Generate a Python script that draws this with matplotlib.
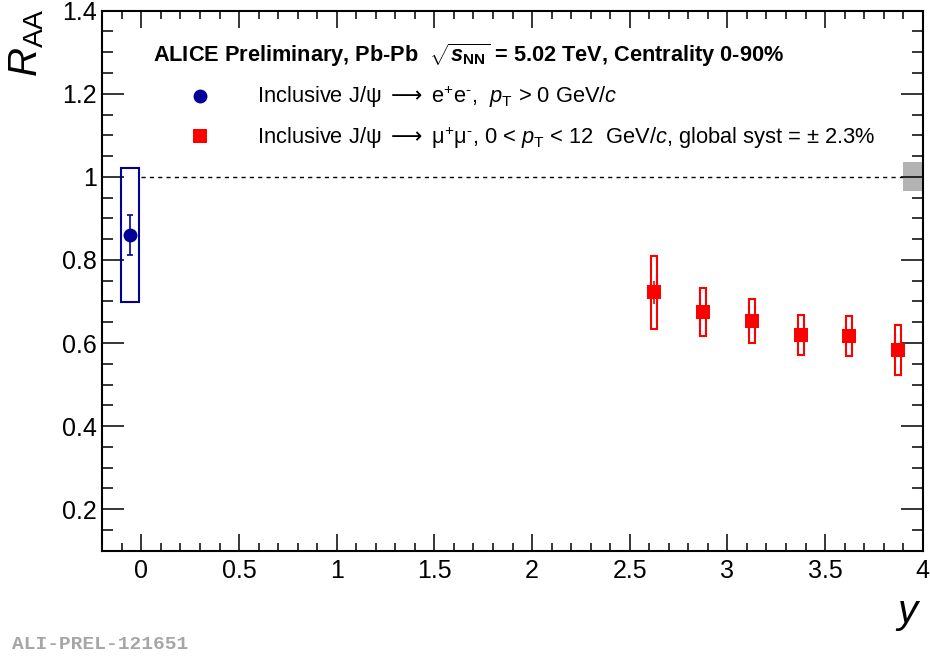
import matplotlib
matplotlib.use('Agg')
import matplotlib.pyplot as plt
from matplotlib.patches import Rectangle
from matplotlib.ticker import MultipleLocator, FuncFormatter

plt.rcParams['font.family'] = ['Liberation Sans', 'DejaVu Sans']
plt.rcParams['mathtext.fontset'] = 'custom'
plt.rcParams['mathtext.rm'] = 'Liberation Sans'
plt.rcParams['mathtext.it'] = 'Liberation Sans:italic'
plt.rcParams['mathtext.bf'] = 'Liberation Sans:bold'
plt.rcParams['mathtext.bfit'] = 'Liberation Sans:italic:bold'
plt.rcParams['mathtext.sf'] = 'DejaVu Sans'

# --- data: J/psi R_AA vs rapidity ---
ee_y = [-0.06]
ee_raa = [0.86]
ee_stat = [0.047]
ee_syst = [0.162]

mumu_y = [2.625, 2.875, 3.125, 3.375, 3.625, 3.875]
mumu_raa = [0.722, 0.674, 0.652, 0.619, 0.616, 0.584]
mumu_stat = [0.027, 0.015, 0.015, 0.015, 0.015, 0.015]
mumu_syst = [0.088, 0.058, 0.053, 0.048, 0.048, 0.060]

global_syst = 0.035

ee_label = (r'Inclusive J/$\mathrm{\psi}$ $\mathsf{\longrightarrow}$ e$^{+}$e$^{\text{-}}$,  '
            r'$p_{\mathrm{T}}$ > 0 GeV/$c$')
mumu_label = (r'Inclusive J/$\mathrm{\psi}$ $\mathsf{\longrightarrow}$ $\mathrm{\mu}^{+}\mathrm{\mu}^{\text{-}}$, '
              r'0 < $p_{\mathrm{T}}$ < 12  GeV/$c$, global syst = $\pm$ 2.3%')
header = r'ALICE Preliminary, Pb-Pb  $\sqrt{\mathbfit{s}_{\mathbf{NN}}}$ = 5.02 TeV, Centrality 0-90%'

blue = '#000099'
red = '#ff0000'

W, H = 930, 657
fig = plt.figure(figsize=(W / 100, H / 100), dpi=100)
ax = fig.add_axes([102.3 / W, 1 - 550.7 / H, (922.7 - 102.3) / W, (550.7 - 10.7) / H])

# reference line and global uncertainty box
ax.plot([0, 3.9], [1, 1], color='black', lw=1, ls=(0, (3, 3)), zorder=1)
ax.add_patch(Rectangle((3.9, 1 - global_syst), 0.1, 2 * global_syst,
                       facecolor='#b3b3b3', edgecolor='none', zorder=1))

# systematic boxes
for x, v, s in zip(ee_y, ee_raa, ee_syst):
    ax.add_patch(Rectangle((x - 0.046, v - s), 0.092, 2 * s, fill=False,
                           edgecolor=blue, lw=1.5, zorder=2))
for x, v, s in zip(mumu_y, mumu_raa, mumu_syst):
    ax.add_patch(Rectangle((x - 0.0155, v - s), 0.031, 2 * s, fill=False,
                           edgecolor=red, lw=1.5, zorder=2))

# statistical errors
ax.errorbar(ee_y, ee_raa, yerr=ee_stat, fmt='none', ecolor=blue, elinewidth=1.2,
            capsize=2.5, capthick=1.2, zorder=3)
ax.errorbar(mumu_y, mumu_raa, yerr=mumu_stat, fmt='none', ecolor=red, elinewidth=1.2,
            capsize=0, zorder=3)

# points
ee_pts, = ax.plot(ee_y, ee_raa, 'o', color=blue, ms=10, mew=0, zorder=4)
mumu_pts, = ax.plot(mumu_y, mumu_raa, 's', color=red, ms=10, mew=0, zorder=4)

ax.set_xlim(-0.2, 4.0)
ax.set_ylim(0.1, 1.4)
ax.xaxis.set_major_locator(MultipleLocator(0.5))
ax.xaxis.set_minor_locator(MultipleLocator(0.1))
ax.yaxis.set_major_locator(MultipleLocator(0.2))
ax.yaxis.set_minor_locator(MultipleLocator(0.05))
fmt = FuncFormatter(lambda v, p: f'{v:g}')
ax.xaxis.set_major_formatter(fmt)
ax.yaxis.set_major_formatter(fmt)

ax.tick_params(which='both', direction='in', top=True, right=True, width=1.1, labelsize=18)
ax.tick_params(axis='x', which='major', length=12, pad=6)
ax.tick_params(axis='x', which='minor', length=6)
ax.tick_params(axis='y', which='major', length=15.6, pad=4)
ax.tick_params(axis='y', which='minor', length=7.8)
for sp in ax.spines.values():
    sp.set_linewidth(1.5)

# axis titles
fig.text(921.7 / W, 1 - 623 / H, '$y$', fontsize=29, ha='right', va='baseline')
fig.text(27 / W, 1 - 8 / H, r'$R_{\mathrm{AA}}$', fontsize=29, rotation=90,
         ha='center', va='top')

# legend
fig.text(153 / W, 1 - 62 / H, header, fontsize=15.7, fontweight='bold', va='baseline')
leg = ax.legend([ee_pts, mumu_pts], [ee_label, mumu_label], loc='upper left',
                bbox_to_anchor=(178.5 / W, 1 - 84 / H), bbox_transform=fig.transFigure,
                frameon=False, fontsize=15.77, handlelength=2.0, handletextpad=1.59,
                labelspacing=0.64, borderpad=0, borderaxespad=0, numpoints=1)

fig.text(12 / W, 1 - 649 / H, 'ALI-PREL-121651', family='Liberation Mono',
         fontweight='bold', color='#a6a6a6', fontsize=14, va='baseline')

fig.savefig('out.png', dpi=100)
